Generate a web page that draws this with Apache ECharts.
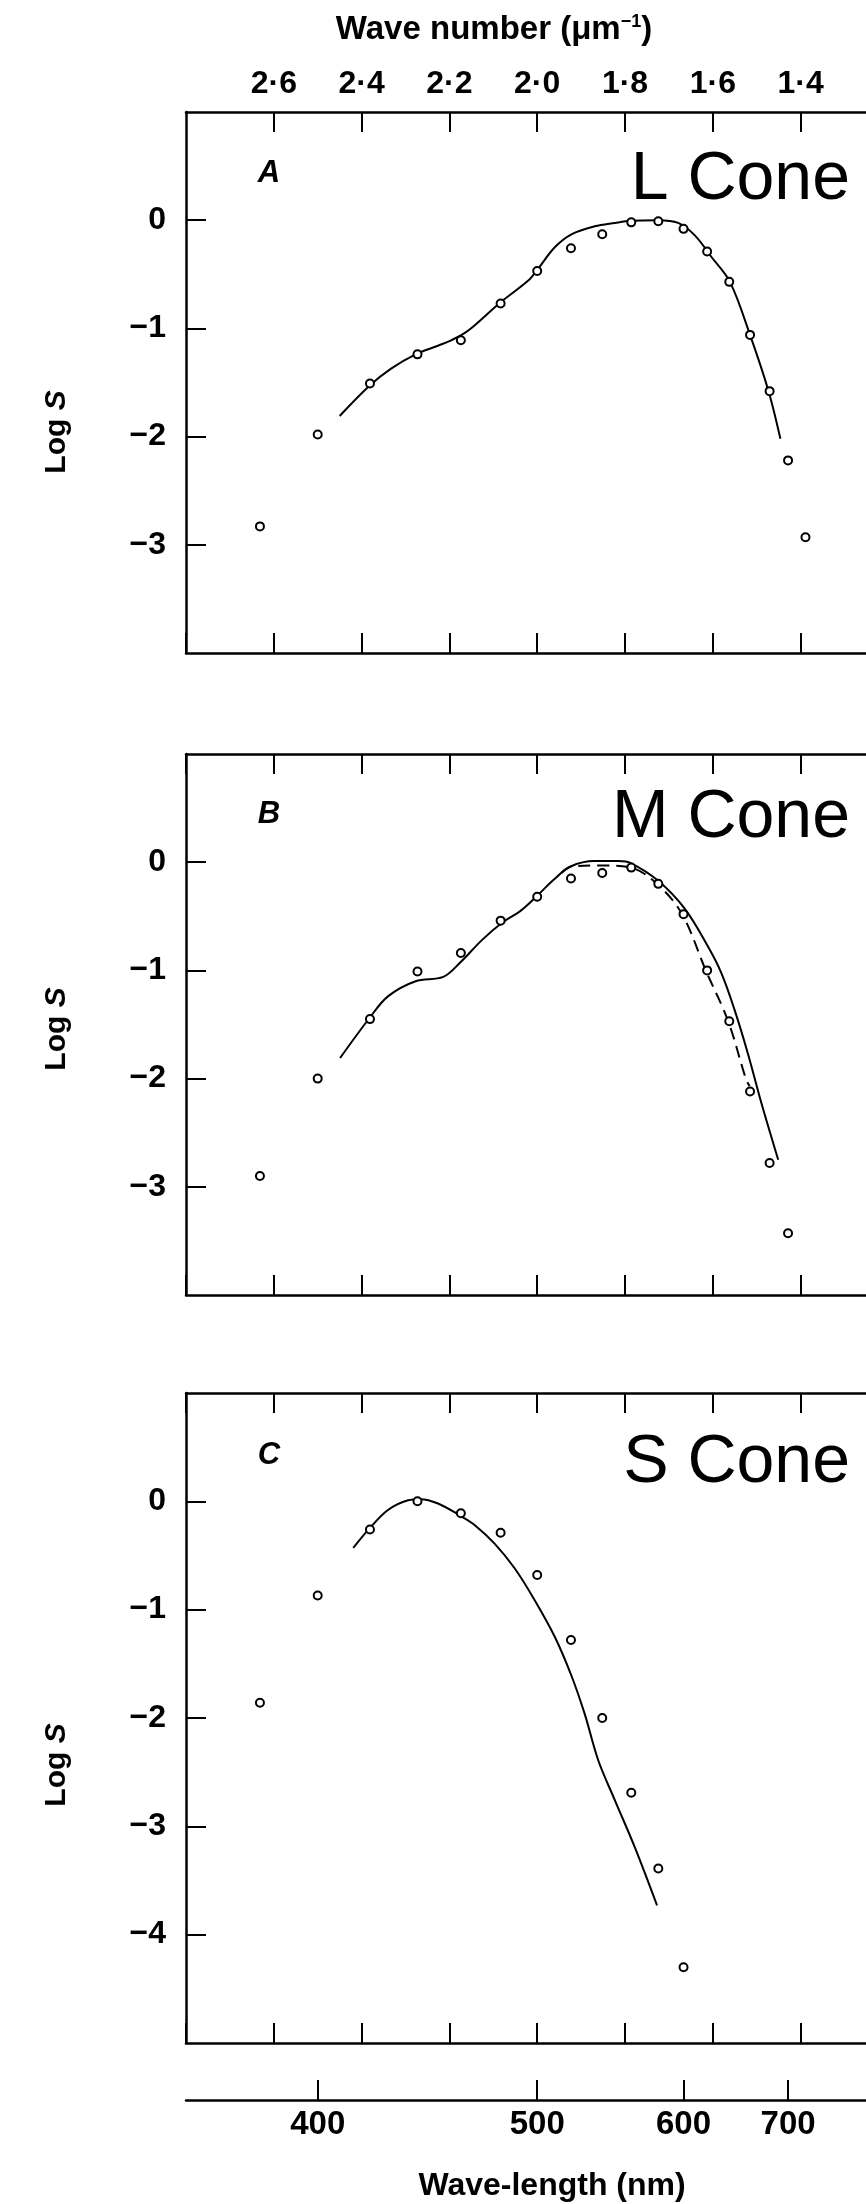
<!DOCTYPE html>
<html>
<head>
<meta charset="utf-8">
<title>Cone spectral sensitivities</title>
<script src="https://cdn.jsdelivr.net/npm/echarts@6/dist/echarts.min.js"></script>
<style>
  html, body { margin: 0; padding: 0; background: #fff; overflow: hidden; }
  #chart { width: 900px; height: 2204px; }
</style>
</head>
<body>
<div id="chart"></div>
<script>
// measured points, one every 20 nm
const wavelengthL = [380, 400, 420, 440, 460, 480, 500, 520, 540, 560, 580, 600, 620, 640, 660, 680, 700, 720];
const logSL = [-2.83, -1.98, -1.51, -1.24, -1.11, -0.77, -0.47, -0.26, -0.13, -0.02, -0.01, -0.08, -0.29, -0.57, -1.06, -1.58, -2.22, -2.93];

const wavelengthM = [380, 400, 420, 440, 460, 480, 500, 520, 540, 560, 580, 600, 620, 640, 660, 680, 700];
const logSM = [-2.90, -2.00, -1.45, -1.01, -0.84, -0.54, -0.32, -0.15, -0.10, -0.05, -0.20, -0.48, -1.00, -1.47, -2.12, -2.78, -3.43];

const wavelengthS = [380, 400, 420, 440, 460, 480, 500, 520, 540, 560, 580, 600];
const logSS = [-1.86, -0.87, -0.26, 0.0, -0.11, -0.29, -0.68, -1.28, -2.00, -2.69, -3.39, -4.30];

// fitted curves, x in wave number (um^-1)
const curveL_wn = [2.450, 2.382, 2.332, 2.277, 2.226, 2.196, 2.157, 2.084, 2.021, 2.000, 1.960, 1.922, 1.869, 1.823, 1.787, 1.725, 1.679, 1.641, 1.603, 1.561, 1.516, 1.473, 1.446];
const curveL_logS = [-1.81, -1.53, -1.37, -1.24, -1.16, -1.11, -1.02, -0.76, -0.56, -0.46, -0.25, -0.13, -0.056, -0.025, -0.006, 0.0, -0.025, -0.14, -0.34, -0.57, -1.05, -1.58, -2.02];

const curveM_wn = [2.449, 2.382, 2.340, 2.277, 2.214, 2.176, 2.126, 2.080, 2.038, 2.000, 1.962, 1.924, 1.870, 1.815, 1.786, 1.725, 1.664, 1.611, 1.580, 1.550, 1.520, 1.489, 1.451];
const curveM_logS = [-1.81, -1.44, -1.24, -1.10, -1.06, -0.93, -0.72, -0.56, -0.45, -0.31, -0.16, -0.04, 0.01, 0.01, -0.01, -0.17, -0.43, -0.78, -1.03, -1.37, -1.77, -2.23, -2.75];

const dashedM_wn = [1.945, 1.922, 1.854, 1.787, 1.727, 1.670, 1.616, 1.565, 1.524, 1.516];
const dashedM_logS = [-0.10, -0.04, -0.03, -0.05, -0.20, -0.48, -1.00, -1.47, -2.01, -2.07];

const curveS_wn = [2.419, 2.382, 2.340, 2.294, 2.266, 2.226, 2.172, 2.142, 2.097, 2.051, 2.006, 1.960, 1.922, 1.892, 1.861, 1.823, 1.778, 1.727];
const curveS_logS = [-0.43, -0.25, -0.08, 0.01, 0.02, -0.02, -0.14, -0.22, -0.39, -0.62, -0.91, -1.25, -1.61, -1.96, -2.39, -2.76, -3.19, -3.73];

const wavelengthTicks = [400, 500, 600, 700];
const panelLetters = ['A', 'B', 'C'];
const panelNames = ['L Cone', 'M Cone', 'S Cone'];

const toWaveNumber = (nm) => 1000 / nm;
const pairs = (xs, ys) => xs.map((x, i) => [x, ys[i]]);

const FONT = '"Liberation Sans", Arial, sans-serif';

// layout of the three boxes
const panelTop = [112, 754, 1393];
const panelHeight = [541, 541, 650];
const panelYMin = [-4, -4, -5];
const labelY = [173, 814, 1455];
const nameY = [180, 818, 1463];
const logSY = [432, 1029, 1765];

const line = { onZero: false, lineStyle: { color: '#000', width: 2.5 } };
const tick = { show: true, inside: true, length: 20, lineStyle: { color: '#000', width: 2 } };

const grids = [];
const xAxes = [];
const yAxes = [];
const series = [];

panelTop.forEach((top, i) => {
  grids.push({ left: 186, width: 702.4, top: top, height: panelHeight[i] });
  ['top', 'bottom'].forEach((pos) => {
    xAxes.push({
      gridIndex: i, type: 'value', position: pos, min: 1.2, max: 2.8, interval: 0.2, inverse: true,
      axisLine: line, axisTick: tick, splitLine: { show: false },
      axisLabel: {
        show: i === 0 && pos === 'top', showMinLabel: false, showMaxLabel: false, margin: 12,
        color: '#000', fontFamily: FONT, fontWeight: 'bold', fontSize: 32,
        formatter: (v) => v.toFixed(1).replace('.', '\u00b7')
      }
    });
  });
  ['left', 'right'].forEach((pos) => {
    yAxes.push({
      gridIndex: i, type: 'value', position: pos, min: panelYMin[i], max: 1, interval: 1,
      axisLine: line, axisTick: tick, splitLine: { show: false },
      axisLabel: {
        show: pos === 'left', showMinLabel: false, showMaxLabel: false, margin: 20,
        color: '#000', fontFamily: FONT, fontWeight: 'bold', fontSize: 32,
        formatter: (v) => (v < 0 ? '\u2212' + Math.abs(v) : String(v))
      }
    });
  });
});

// wave-length scale under the last box
grids.push({ left: 186, width: 702.4, top: 1990, height: 110 });
xAxes.push({
  gridIndex: 3, type: 'value', position: 'bottom', min: 1.2, max: 2.8, inverse: true,
  axisLine: line, splitLine: { show: false },
  axisTick: Object.assign({}, tick, { customValues: wavelengthTicks.map(toWaveNumber) }),
  axisLabel: {
    customValues: wavelengthTicks.map(toWaveNumber), margin: 8,
    color: '#000', fontFamily: FONT, fontWeight: 'bold', fontSize: 33,
    formatter: (v) => String(Math.round(1000 / v))
  }
});
yAxes.push({ gridIndex: 3, type: 'value', show: false });

const curve = (i, data, dashed) => ({
  type: 'line', xAxisIndex: i * 2 + 1, yAxisIndex: i * 2, data: data,
  smooth: 0.35, showSymbol: false, silent: true, z: 2,
  lineStyle: { color: '#000', width: 2, type: dashed ? [12, 7] : 'solid' }
});
const dots = (i, nm, vals) => ({
  type: 'scatter', xAxisIndex: i * 2 + 1, yAxisIndex: i * 2,
  data: pairs(nm.map(toWaveNumber), vals), symbol: 'circle', symbolSize: 8, z: 3,
  itemStyle: { color: '#fff', borderColor: '#000', borderWidth: 2, opacity: 1 }
});

series.push(curve(0, pairs(curveL_wn, curveL_logS)), dots(0, wavelengthL, logSL));
series.push(curve(1, pairs(curveM_wn, curveM_logS)), curve(1, pairs(dashedM_wn, dashedM_logS), true), dots(1, wavelengthM, logSM));
series.push(curve(2, pairs(curveS_wn, curveS_logS)), dots(2, wavelengthS, logSS));

const graphic = [
  {
    type: 'text', x: 494, y: 30,
    style: {
      text: '{t|Wave number (\u03bcm}{s|\u22121}{t|)}', align: 'center', verticalAlign: 'middle',
      rich: {
        t: { fontFamily: FONT, fontWeight: 'bold', fontSize: 33, fill: '#000' },
        s: { fontFamily: FONT, fontWeight: 'bold', fontSize: 18, fill: '#000', verticalAlign: 'top' }
      }
    }
  },
  {
    type: 'text', x: 552, y: 2186,
    style: { text: 'Wave-length (nm)', fontFamily: FONT, fontWeight: 'bold', fontSize: 32, fill: '#000', align: 'center', verticalAlign: 'middle' }
  }
];

panelTop.forEach((top, i) => {
  graphic.push({
    type: 'text', x: 269, y: labelY[i],
    style: { text: panelLetters[i], fontFamily: FONT, fontWeight: 'bold', fontStyle: 'italic', fontSize: 31, fill: '#000', align: 'center', verticalAlign: 'middle' }
  });
  graphic.push({
    type: 'text', x: 850, y: nameY[i],
    style: { text: panelNames[i], fontFamily: FONT, fontSize: 68, fill: '#000', align: 'right', verticalAlign: 'middle' }
  });
  graphic.push({
    type: 'text', x: 57, y: logSY[i], rotation: Math.PI / 2,
    style: {
      text: '{n|Log }{i|S}', align: 'center', verticalAlign: 'middle',
      rich: {
        n: { fontFamily: FONT, fontWeight: 'bold', fontSize: 30, fill: '#000' },
        i: { fontFamily: FONT, fontWeight: 'bold', fontStyle: 'italic', fontSize: 30, fill: '#000' }
      }
    }
  });
});

const chart = echarts.init(document.getElementById('chart'));
chart.setOption({
  animation: false,
  backgroundColor: '#fff',
  grid: grids,
  xAxis: xAxes,
  yAxis: yAxes,
  series: series,
  graphic: graphic
});
</script>
</body>
</html>
